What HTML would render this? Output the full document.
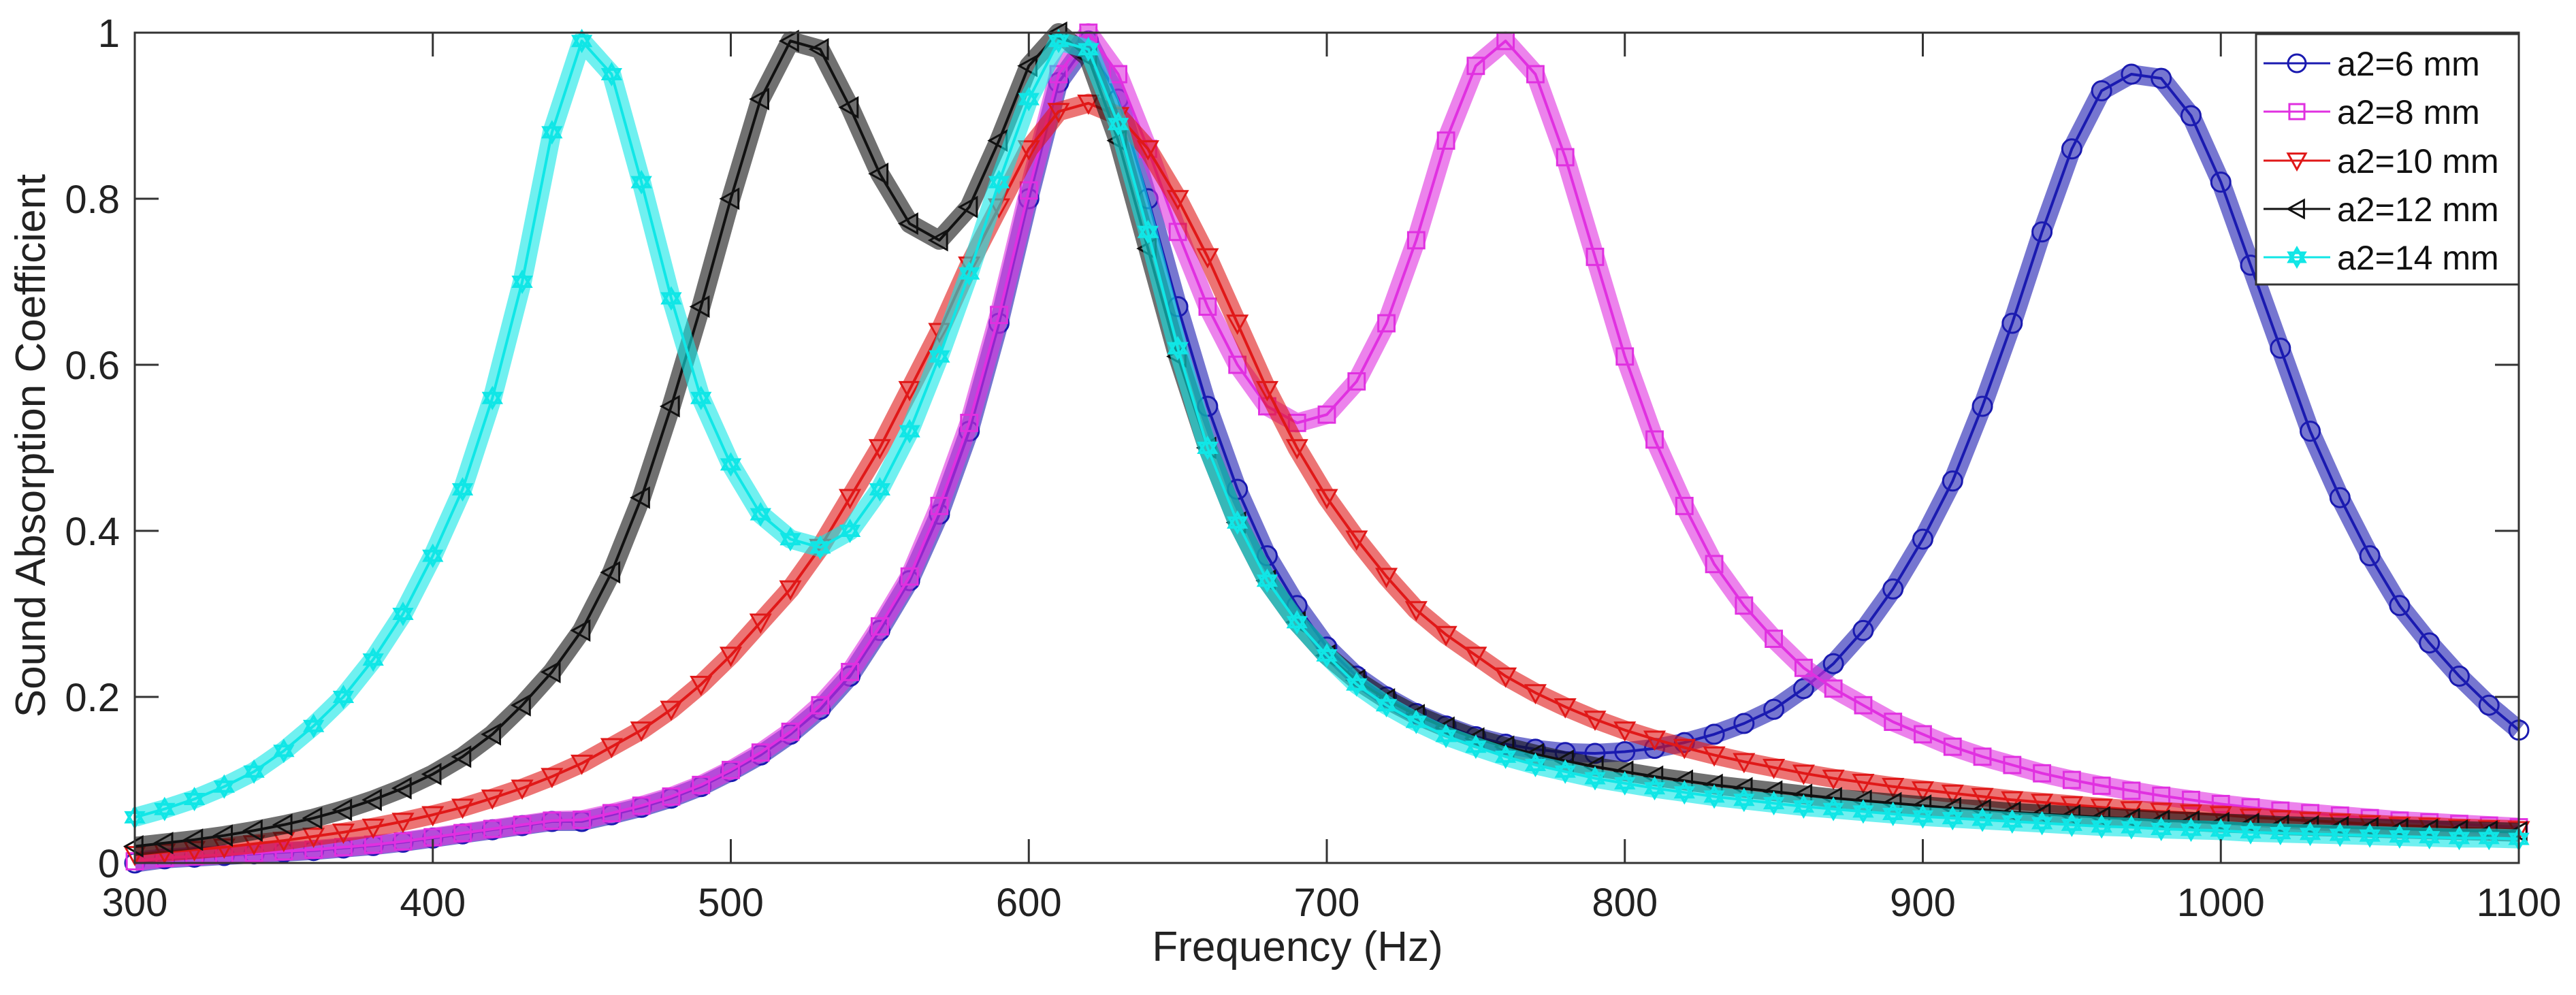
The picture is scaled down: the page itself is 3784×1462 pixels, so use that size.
<!DOCTYPE html>
<html><head><meta charset="utf-8">
<style>
html,body{margin:0;padding:0;background:#fff;}
svg{display:block;font-family:"Liberation Sans",Arial,sans-serif;}
</style></head>
<body>
<svg id="chart" width="3784" height="1462" viewBox="0 0 3784 1462" xmlns="http://www.w3.org/2000/svg">
<rect x="0" y="0" width="3784" height="1462" fill="#fff"/>
<g id="series"></g>
<rect x="198" y="48" width="3502" height="1220" fill="none" stroke="#333" stroke-width="3"/>
<g id="axes"></g>
<text x="1906" y="1412" font-size="62" text-anchor="middle" fill="#222">Frequency (Hz)</text>
<text x="0" y="0" font-size="62" text-anchor="middle" fill="#222" transform="translate(66,655) rotate(-90)">Sound Absorption Coefficient</text>
<g id="legend"></g>
</svg>
<script>
const freqs = [300,310,320,330,340,350,360,370,380,390,400,410,420,430,440,450,460,470,480,490,500,510,520,530,540,550,560,570,580,590,600,610,620,630,640,650,660,670,680,690,700,710,720,730,740,750,760,770,780,790,800,810,820,830,840,850,860,870,880,890,900,910,920,930,940,950,960,970,980,990,1000,1010,1020,1030,1040,1050,1060,1070,1080,1090,1100];
const a6 = [0.0,0.005,0.007,0.009,0.011,0.013,0.015,0.018,0.021,0.025,0.03,0.035,0.04,0.045,0.05,0.05,0.058,0.067,0.078,0.092,0.11,0.13,0.155,0.185,0.225,0.28,0.34,0.42,0.52,0.65,0.8,0.94,0.99,0.92,0.8,0.67,0.55,0.45,0.37,0.31,0.26,0.225,0.2,0.18,0.165,0.152,0.143,0.137,0.133,0.132,0.134,0.138,0.145,0.155,0.168,0.185,0.21,0.24,0.28,0.33,0.39,0.46,0.55,0.65,0.76,0.86,0.93,0.95,0.945,0.9,0.82,0.72,0.62,0.52,0.44,0.37,0.31,0.265,0.225,0.19,0.16];
const a8 = [0.002,0.006,0.008,0.01,0.012,0.014,0.016,0.019,0.022,0.026,0.031,0.036,0.041,0.046,0.051,0.052,0.06,0.069,0.08,0.094,0.112,0.133,0.158,0.19,0.23,0.285,0.345,0.43,0.53,0.66,0.81,0.95,1.0,0.95,0.86,0.76,0.67,0.6,0.55,0.53,0.54,0.58,0.65,0.75,0.87,0.96,0.99,0.95,0.85,0.73,0.61,0.51,0.43,0.36,0.31,0.27,0.235,0.21,0.19,0.17,0.155,0.14,0.128,0.118,0.108,0.1,0.093,0.087,0.081,0.076,0.071,0.067,0.063,0.06,0.057,0.054,0.051,0.049,0.047,0.045,0.043];
const a10 = [0.01,0.013,0.016,0.019,0.023,0.027,0.032,0.037,0.043,0.05,0.058,0.067,0.078,0.09,0.104,0.12,0.14,0.16,0.185,0.215,0.25,0.29,0.33,0.38,0.44,0.5,0.57,0.64,0.72,0.79,0.86,0.905,0.915,0.9,0.86,0.8,0.73,0.65,0.57,0.5,0.44,0.39,0.345,0.305,0.275,0.25,0.225,0.205,0.188,0.173,0.16,0.149,0.139,0.13,0.122,0.115,0.108,0.102,0.097,0.092,0.088,0.084,0.08,0.076,0.073,0.07,0.067,0.064,0.062,0.06,0.058,0.055,0.053,0.051,0.049,0.047,0.045,0.044,0.042,0.041,0.04];
const a12 = [0.02,0.024,0.028,0.033,0.039,0.046,0.054,0.064,0.076,0.09,0.107,0.128,0.155,0.19,0.23,0.28,0.35,0.44,0.55,0.67,0.8,0.92,0.99,0.98,0.91,0.83,0.77,0.75,0.79,0.87,0.96,1.0,0.97,0.87,0.74,0.61,0.5,0.41,0.34,0.29,0.25,0.22,0.197,0.178,0.163,0.15,0.14,0.131,0.123,0.116,0.11,0.104,0.099,0.094,0.09,0.086,0.082,0.078,0.075,0.072,0.069,0.066,0.064,0.061,0.059,0.057,0.055,0.053,0.051,0.05,0.048,0.047,0.045,0.044,0.043,0.042,0.041,0.04,0.039,0.038,0.037];
const a14 = [0.055,0.065,0.077,0.092,0.11,0.135,0.165,0.2,0.245,0.3,0.37,0.45,0.56,0.7,0.88,0.99,0.95,0.82,0.68,0.56,0.48,0.42,0.39,0.38,0.4,0.45,0.52,0.61,0.71,0.82,0.92,0.99,0.98,0.89,0.76,0.62,0.5,0.41,0.34,0.29,0.25,0.215,0.19,0.17,0.153,0.14,0.128,0.118,0.11,0.102,0.096,0.09,0.085,0.08,0.076,0.072,0.068,0.065,0.062,0.059,0.056,0.054,0.052,0.05,0.048,0.046,0.044,0.043,0.041,0.04,0.039,0.037,0.036,0.035,0.034,0.033,0.032,0.031,0.03,0.03,0.029];
const seriesNames = ["a2=6 mm","a2=8 mm","a2=10 mm","a2=12 mm","a2=14 mm"];
const xTicks = [300,400,500,600,700,800,900,1000,1100];
const yTicks = [0,0.2,0.4,0.6,0.8,1];
const yTickLabels = ["0","0.2","0.4","0.6","0.8","1"];

const NS="http://www.w3.org/2000/svg";
const X0=198,X1=3700,Y0=1268,Y1=48;
function xs(f){return X0+(f-300)/(1100-300)*(X1-X0);}
function ys(v){return Y0-(v-0)/(1-0)*(Y0-Y1);}
function mk(tag,attrs,parent){const e=document.createElementNS(NS,tag);for(const k in attrs)e.setAttribute(k,attrs[k]);parent.appendChild(e);return e;}

const axes=document.getElementById('axes');
xTicks.forEach((t,i)=>{
  const l=mk('line',{x1:xs(t),x2:xs(t),y1:Y0,y2:Y0-35,stroke:'#333','stroke-width':3},axes);
  
  
  const l2=mk('line',{x1:xs(t),x2:xs(t),y1:Y1,y2:Y1+35,stroke:'#333','stroke-width':3},axes);
  
  
  const tx=mk('text',{x:xs(t),y:Y0+78,'font-size':58,'text-anchor':'middle',fill:'#222'},axes);
  tx.textContent=String(t);
  
  
});
yTicks.forEach((t,i)=>{
  const l=mk('line',{x1:X0,x2:X0+35,y1:ys(t),y2:ys(t),stroke:'#333','stroke-width':3},axes);
  
  
  const l2=mk('line',{x1:X1,x2:X1-35,y1:ys(t),y2:ys(t),stroke:'#333','stroke-width':3},axes);
  
  
  const tx=mk('text',{x:X0-22,y:ys(t)+21,'font-size':58,'text-anchor':'end',fill:'#222'},axes);
  tx.textContent=yTickLabels[i];
  
  
});

const colors=['#1a1ab0','#e030e0','#e01818','#111111','#10e6e6'];
const shapes=['circle','square','tri-down','tri-left','hexagram'];
const datasets=[a6,a8,a10,a12,a14];
function marker(shape,x,y,c,parent,sz){
  const s=sz||14;let e;
  if(shape==='circle'){e=mk('circle',{cx:x,cy:y,r:s,fill:'none',stroke:c,'stroke-width':3},parent);}
  else if(shape==='square'){e=mk('rect',{x:x-s*0.85,y:y-s*0.85,width:s*1.7,height:s*1.7,fill:'none',stroke:c,'stroke-width':3},parent);}
  else if(shape==='tri-down'){e=mk('polygon',{points:`${x-s},${y-s*0.8} ${x+s},${y-s*0.8} ${x},${y+s}`,fill:'none',stroke:c,'stroke-width':3},parent);}
  else if(shape==='tri-left'){e=mk('polygon',{points:`${x-s},${y} ${x+s*0.8},${y-s} ${x+s*0.8},${y+s}`,fill:'none',stroke:c,'stroke-width':3},parent);}
  else {const p1=`${x},${y-s} ${x+s*0.87},${y+s*0.5} ${x-s*0.87},${y+s*0.5}`;const p2=`${x},${y+s} ${x+s*0.87},${y-s*0.5} ${x-s*0.87},${y-s*0.5}`;
    e=mk('g',{},parent);mk('polygon',{points:p1,fill:'none',stroke:c,'stroke-width':4},e);mk('polygon',{points:p2,fill:'none',stroke:c,'stroke-width':4},e);}
  return e;
}
const sg=document.getElementById('series');
datasets.forEach((d,si)=>{
  const g=mk('g',{},sg);
  
  
  const pts=d.map((v,i)=>xs(freqs[i]).toFixed(1)+','+ys(v).toFixed(1)).join(' ');
  const band=mk('polyline',{points:pts,fill:'none',stroke:colors[si],'stroke-width':28,'stroke-opacity':0.6,'stroke-linejoin':'round'},g);
  
  
  const line=mk('polyline',{points:pts,fill:'none',stroke:colors[si],'stroke-width':4,'stroke-linejoin':'round'},g);
  
  
  d.forEach((v,i)=>{
    const m=marker(shapes[si],xs(freqs[i]),ys(v),colors[si],g,14);
    
    
  });
});

const lg=document.getElementById('legend');
const box=mk('rect',{x:3314,y:50,width:386,height:368,fill:'#fff',stroke:'#333','stroke-width':3},lg);


const rowsY=[93,164,236,307,378];
seriesNames.forEach((n,i)=>{
  const g=mk('g',{},lg);
  
  
  mk('line',{x1:3325,x2:3423,y1:rowsY[i],y2:rowsY[i],stroke:colors[i],'stroke-width':3},g);
  marker(shapes[i],3374,rowsY[i],colors[i],g,13);
  const t=mk('text',{x:3433,y:rowsY[i]+18,'font-size':50,fill:'#111'},g);
  t.textContent=n;
  
  
});
</script>
</body></html>
